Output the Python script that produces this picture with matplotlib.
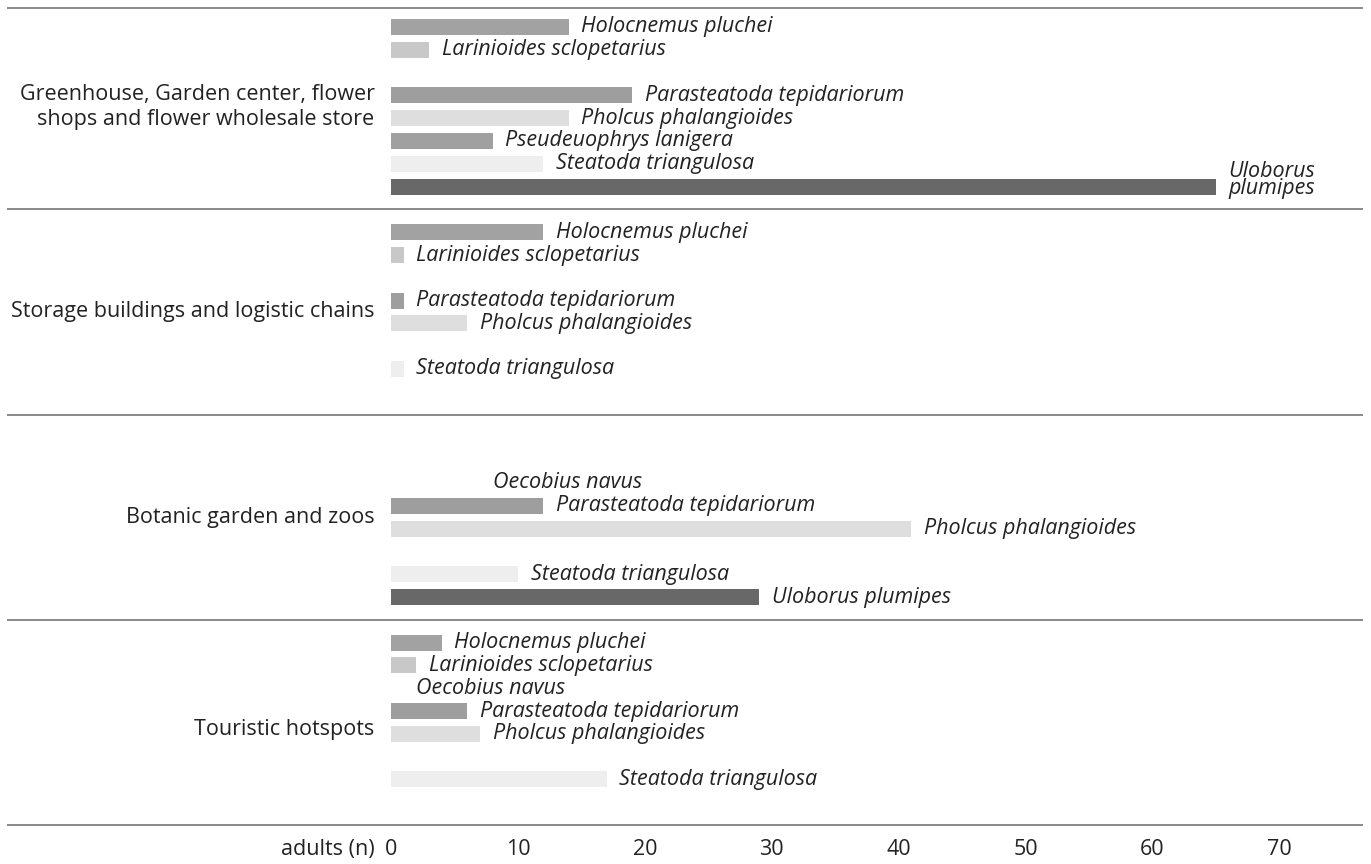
import matplotlib
matplotlib.use("Agg")
import matplotlib.pyplot as plt
import numpy as np

# -------------------------------------
# Data
# -------------------------------------

species = [
    "Holocnemus pluchei",
    "Larinioides sclopetarius",
    "Oecobius navus",
    "Parasteatoda tepidariorum",
    "Pholcus phalangioides",
    "Pseudeuophrys lanigera",
    "Steatoda triangulosa",
    "Uloborus plumipes",
]

habitats = [
    "Greenhouse, Garden center, flower\nshops and flower wholesale store",
    "Storage buildings and logistic chains",
    "Botanic garden and zoos",
    "Touristic hotspots",
]

# adults (n) per species, same order as `species`; 0 = not recorded
greenhouse = [14, 3, 0, 19, 14, 8, 12, 65]
storage = [12, 1, 0, 1, 6, 0, 1, 0]
botanic = [0, 0, 7, 12, 41, 0, 10, 29]
touristic = [4, 2, 1, 6, 7, 0, 17, 0]

ticks = [0, 10, 20, 30, 40, 50, 60, 70]

# -------------------------------------
# Style
# -------------------------------------

plt.rcParams["font.family"] = ["Open Sans", "DejaVu Sans"]

colors = {
    "Holocnemus pluchei": "#a2a2a2",
    "Larinioides sclopetarius": "#c8c8c8",
    "Oecobius navus": "#ffffff",
    "Parasteatoda tepidariorum": "#9e9e9e",
    "Pholcus phalangioides": "#dedede",
    "Pseudeuophrys lanigera": "#a0a0a0",
    "Steatoda triangulosa": "#eeeeee",
    "Uloborus plumipes": "#686868",
}

FS = 15.5
PX = 12.69      # pixels per adult
X0 = 391        # pixel of x = 0
SLOT = 22.8     # pixels per bar slot
Y0 = 27         # pixel of first slot

W, H = 1371, 864
fig = plt.figure(figsize=(W / 100, H / 100), dpi=100)
ax = fig.add_axes([0, 0, 1, 1])
ax.set_xlim(-X0 / PX, (W - X0) / PX)
ax.set_ylim((H - Y0) / SLOT, -Y0 / SLOT)
ax.axis("off")

line_left = (8 - X0) / PX
line_right = (1362 - X0) / PX

groups = [greenhouse, storage, botanic, touristic]
label_pos = [3.5, 3.5, 3.5, 3.8]

ax.plot([line_left, line_right], [-0.85, -0.85], color="#8a8a8a", lw=1.4)

for g, (name, values) in enumerate(zip(habitats, groups)):

    base = g * 9
    y = base + np.arange(len(species))

    ax.barh(
        y,
        values,
        height=0.7,
        color=[colors[s] for s in species],
        edgecolor="none",
    )

    for yi, s, v in zip(y, species, values):

        if v == 0:
            continue

        text = s
        dy = 0
        if v > 60:
            text = s.replace(" ", "\n")
            dy = -0.3

        ax.text(
            v + 1.0,
            yi + dy,
            text,
            ha="left",
            va="center",
            fontsize=FS,
            style="italic",
            color="#222222",
            linespacing=0.75,
        )

    ax.text(
        -1.3,
        base + label_pos[g],
        name,
        ha="right",
        va="center",
        fontsize=FS,
        color="#222222",
        linespacing=1.25,
    )

    ax.plot(
        [line_left, line_right],
        [base + 8, base + 8],
        color="#8a8a8a",
        lw=1.4,
    )

# x axis labels
ty = (849 - Y0) / SLOT
for t in ticks:
    ax.text(t, ty, str(t), ha="center", va="center", fontsize=FS, color="#222222")

ax.text(-1.3, ty, "adults (n)", ha="right", va="center", fontsize=FS, color="#222222")

fig.savefig("out.png", dpi=100)
